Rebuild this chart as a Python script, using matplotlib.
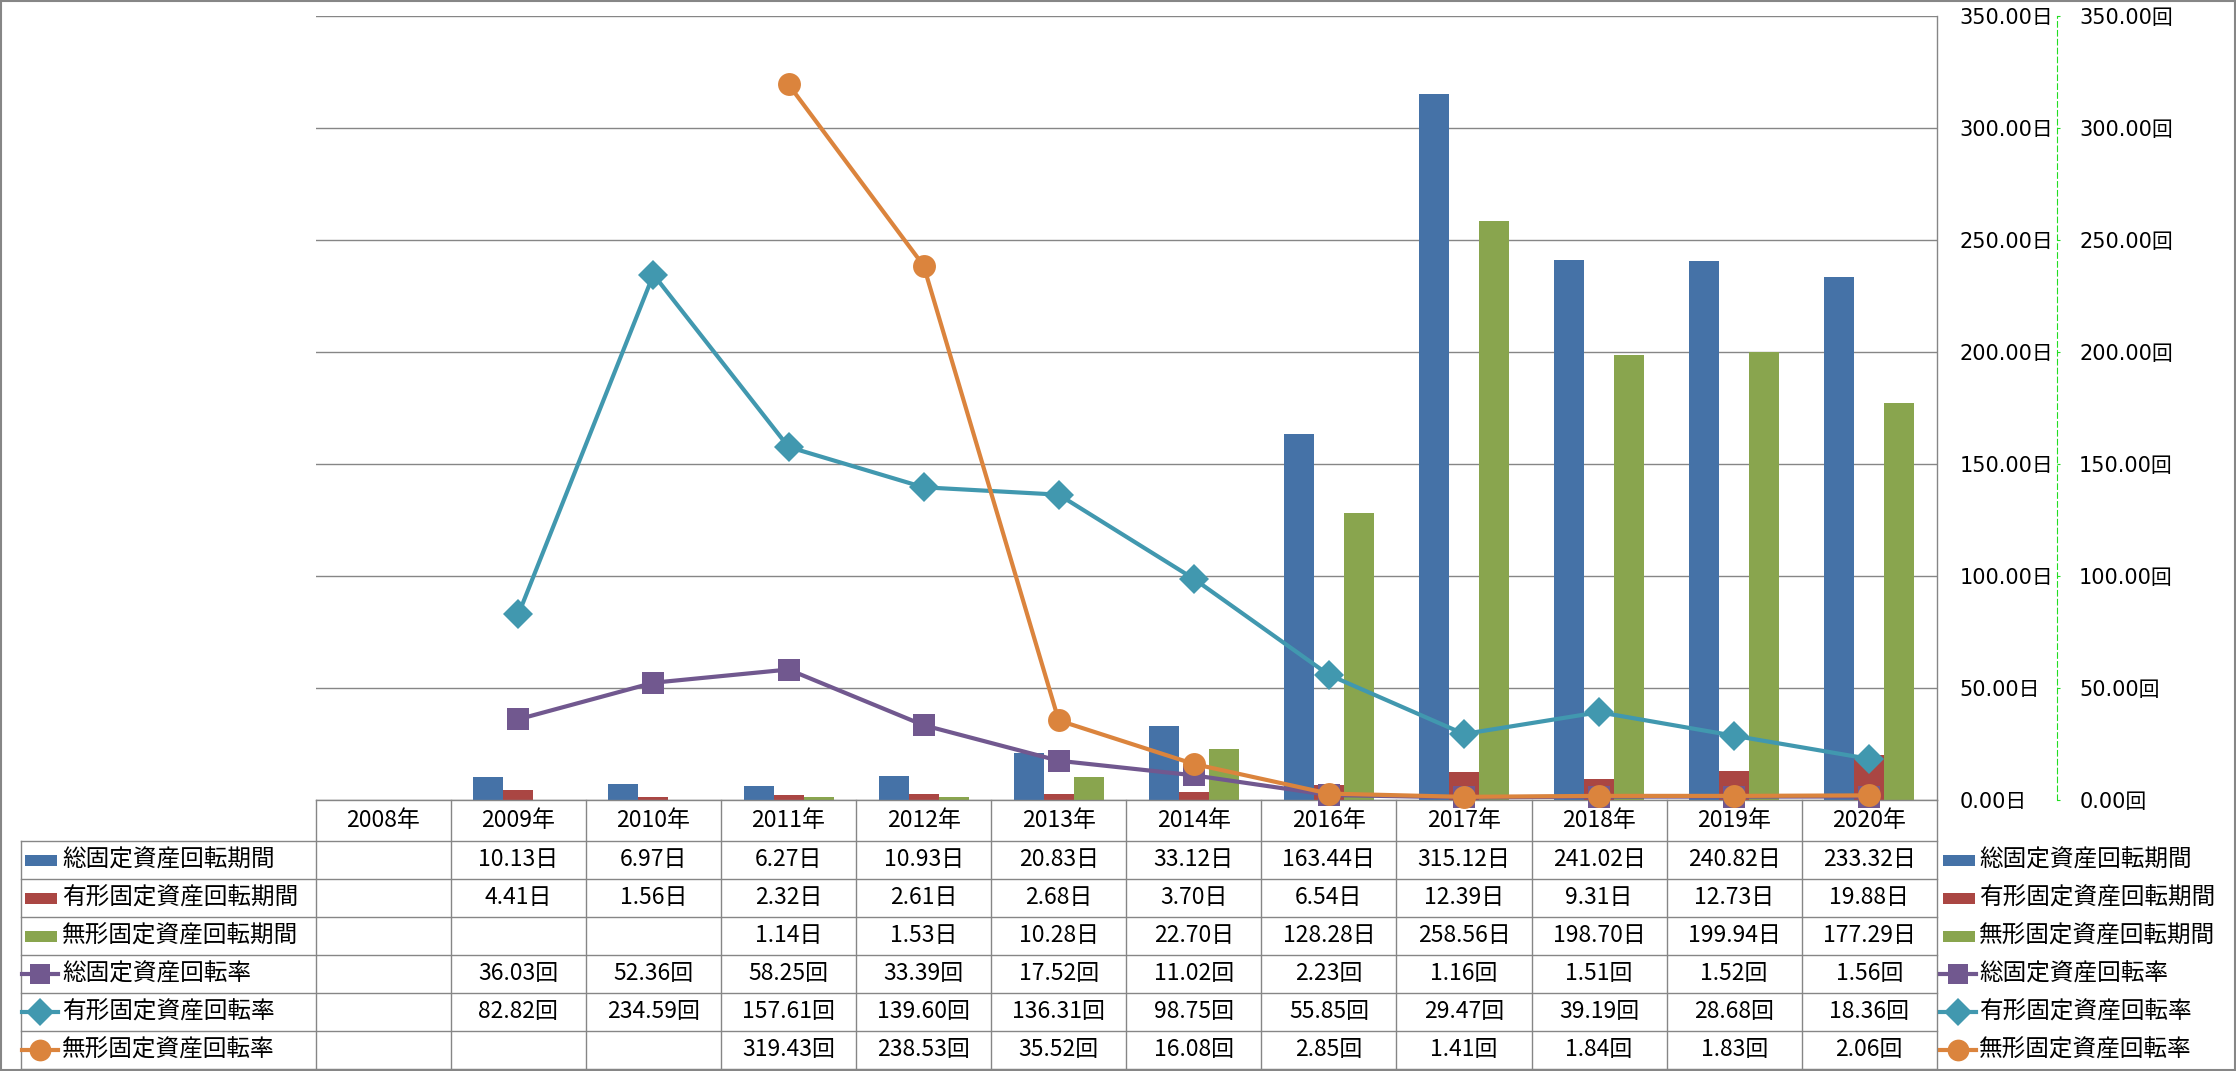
import numpy as np
import matplotlib
matplotlib.use("Agg")
import matplotlib.pyplot as plt
from matplotlib import transforms
from matplotlib.lines import Line2D
from matplotlib.patches import Rectangle

# ---------------- data ----------------
years = ["2008年", "2009年", "2010年", "2011年", "2012年", "2013年", "2014年",
         "2016年", "2017年", "2018年", "2019年", "2020年"]
nan = np.nan
total_days = [nan, 10.13, 6.97, 6.27, 10.93, 20.83, 33.12, 163.44, 315.12, 241.02, 240.82, 233.32]
tangible_days = [nan, 4.41, 1.56, 2.32, 2.61, 2.68, 3.70, 6.54, 12.39, 9.31, 12.73, 19.88]
intangible_days = [nan, nan, nan, 1.14, 1.53, 10.28, 22.70, 128.28, 258.56, 198.70, 199.94, 177.29]
total_rate = [nan, 36.03, 52.36, 58.25, 33.39, 17.52, 11.02, 2.23, 1.16, 1.51, 1.52, 1.56]
tangible_rate = [nan, 82.82, 234.59, 157.61, 139.60, 136.31, 98.75, 55.85, 29.47, 39.19, 28.68, 18.36]
intangible_rate = [nan, nan, nan, 319.43, 238.53, 35.52, 16.08, 2.85, 1.41, 1.84, 1.83, 2.06]

bar_names = ["総固定資産回転期間", "有形固定資産回転期間", "無形固定資産回転期間"]
line_names = ["総固定資産回転率", "有形固定資産回転率", "無形固定資産回転率"]
yticks = [0, 50, 100, 150, 200, 250, 300, 350]

# ---------------- style ----------------
W, H = 2236, 1071
DPI = 100
bar_colors = ["#4572A7", "#AA4643", "#89A54E"]
line_colors = ["#71588F", "#4198AF", "#DB843D"]
markers = ["s", "D", "o"]
msizes = [15.5, 15.0, 16.5]
grid_c = "#868686"
CJK = ["Noto Sans CJK JP", "DejaVu Sans"]
TICKF = ["DejaVu Sans", "Noto Sans CJK JP"]

plt.rcParams["font.family"] = CJK

fig = plt.figure(figsize=(W / DPI, H / DPI), dpi=DPI)

def fx(px):
    return px / W

def fy(py):
    return 1 - py / H

x_left, x_right = 315.7, 1936.8
y_top, y_bot = 16.0, 800.0
ax = fig.add_axes([fx(x_left), fy(y_bot), fx(x_right) - fx(x_left), fy(y_top) - fy(y_bot)])
ax2 = ax.twinx()

n = len(years)
x = np.arange(n)
bw = 0.222
for k, (vals, c) in enumerate(zip([total_days, tangible_days, intangible_days], bar_colors)):
    ax.bar(x + (k - 1) * bw, np.nan_to_num(vals), width=bw, color=c, zorder=2)

ax.set_xlim(-0.5, n - 0.5)
ax.set_ylim(0, 350)
ax.set_xticks([])
ax.yaxis.tick_right()
ax.set_yticks(yticks)
ax.set_yticklabels([f"{v:.2f}日" for v in yticks], family=TICKF, fontsize=15)
ax.tick_params(axis="y", left=False, labelleft=False, right=False, labelright=True,
               length=0, pad=16.5)
ax.yaxis.grid(True, color=grid_c, lw=1.0, zorder=0)
ax.set_axisbelow(True)
for s in ["left", "top"]:
    ax.spines[s].set_visible(False)
ax.spines["right"].set_color(grid_c)
ax.spines["bottom"].set_color(grid_c)
ax.spines["right"].set_linewidth(1.0)
ax.spines["bottom"].set_linewidth(1.0)

for s in ["left", "top", "bottom"]:
    ax2.spines[s].set_visible(False)
ax2.spines["right"].set_position(("outward", 86.5))
ax2.spines["right"].set_color("#22DD22")
ax2.spines["right"].set_linewidth(0.8)
ax2.spines["right"].set_linestyle((0, (5, 3)))
ax2.set_ylim(0, 350)
ax2.set_yticks(yticks)
ax2.set_yticklabels([f"{v:.2f}回" for v in yticks], family=TICKF, fontsize=15)
ax2.tick_params(axis="y", length=2.5, width=0.8, color="#22DD22", pad=13.5,
                direction="out", labelsize=15)

for vals, c, m, ms in zip([total_rate, tangible_rate, intangible_rate], line_colors, markers, msizes):
    ax2.plot(x, vals, color=c, lw=3.0, marker=m, markersize=ms, markeredgewidth=0,
             clip_on=False, zorder=3)

# ---------------- data table ----------------
btr = transforms.blended_transform_factory(ax.transData, fig.transFigure)
row_edges = [800, 841, 879, 917, 955, 993, 1031, 1069]
tcol = grid_c
tlw = 1.0
tab_left = 21.0
for i in range(n + 1):
    fig.add_artist(Line2D([i - 0.5, i - 0.5], [fy(row_edges[0]), fy(row_edges[-1])],
                          transform=btr, color=tcol, lw=tlw))
fig.add_artist(Line2D([fx(tab_left), fx(tab_left)], [fy(row_edges[1]), fy(row_edges[-1])],
                      transform=fig.transFigure, color=tcol, lw=tlw))
for r in row_edges[1:]:
    fig.add_artist(Line2D([fx(tab_left), fx(x_right)], [fy(r), fy(r)],
                          transform=fig.transFigure, color=tcol, lw=tlw))

TF = 16.5
for i, yl in enumerate(years):
    fig.text(i, fy((row_edges[0] + row_edges[1]) / 2), yl, transform=btr,
             ha="center", va="center", fontsize=TF, family=CJK)

series = [total_days, tangible_days, intangible_days, total_rate, tangible_rate, intangible_rate]
units = ["日", "日", "日", "回", "回", "回"]
names = bar_names + line_names
colors = bar_colors + line_colors


def draw_key(px0, pyc, idx):
    if idx < 3:
        fig.add_artist(Rectangle((fx(px0), fy(pyc + 5.5)), fx(32), 11 / H,
                                 transform=fig.transFigure, color=colors[idx], lw=0))
    else:
        fig.add_artist(Line2D([fx(px0 - 3), fx(px0 + 33)], [fy(pyc), fy(pyc)],
                              transform=fig.transFigure, color=colors[idx], lw=3.0))
        fig.add_artist(Line2D([fx(px0 + 15)], [fy(pyc)], transform=fig.transFigure,
                              color=colors[idx], marker=markers[idx - 3],
                              markersize=msizes[idx - 3] * 0.95, markeredgewidth=0, lw=0))


for r, (vals, u, nm) in enumerate(zip(series, units, names)):
    yc = (row_edges[r + 1] + row_edges[r + 2]) / 2
    for i, v in enumerate(vals):
        if not np.isnan(v):
            fig.text(i, fy(yc), f"{v:.2f}{u}", transform=btr, ha="center", va="center",
                     fontsize=TF, family=CJK)
    draw_key(25, yc, r)
    fig.text(fx(62), fy(yc), nm, ha="left", va="center", fontsize=17, family=CJK)
    draw_key(1943, yc, r)
    fig.text(fx(1979), fy(yc), nm, ha="left", va="center", fontsize=17, family=CJK)

fig.add_artist(Rectangle((0.0005, 0.001), 0.999, 0.998, transform=fig.transFigure,
                         fill=False, edgecolor=grid_c, lw=1.5))

fig.savefig("out.png", dpi=DPI)
